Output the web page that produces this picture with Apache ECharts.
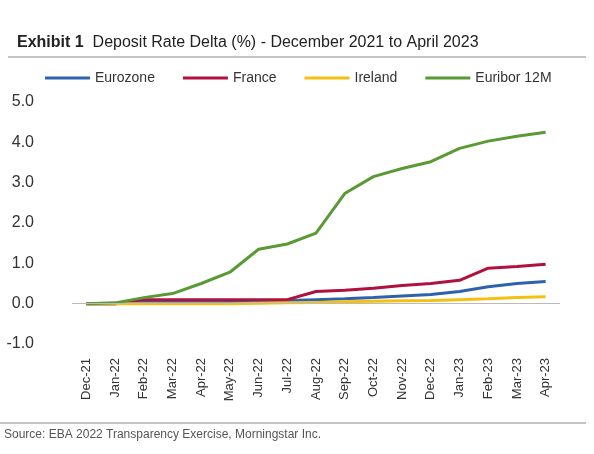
<!DOCTYPE html>
<html><head><meta charset="utf-8">
<script src="https://cdn.jsdelivr.net/npm/echarts@6/dist/echarts.min.js"></script>
<style>body{margin:0;background:#fff}#c{width:594px;height:454px}</style>
</head><body><div id="c"></div>
<script>
const months = ['Dec-21','Jan-22','Feb-22','Mar-22','Apr-22','May-22','Jun-22','Jul-22','Aug-22','Sep-22','Oct-22','Nov-22','Dec-22','Jan-23','Feb-23','Mar-23','Apr-23']
const eurozone = [0,0,0.05,0.05,0.05,0.05,0.07,0.08,0.1,0.12,0.15,0.19,0.23,0.3,0.42,0.5,0.55]
const france = [0,0,0.1,0.1,0.1,0.1,0.1,0.1,0.3,0.33,0.38,0.45,0.5,0.58,0.88,0.92,0.98]
const ireland = [0,0,0,0,0,0,0.01,0.02,0.03,0.05,0.06,0.07,0.08,0.1,0.12,0.15,0.17]
const euribor = [0,0.02,0.15,0.25,0.5,0.78,1.35,1.48,1.75,2.73,3.15,3.35,3.52,3.85,4.03,4.15,4.25]
const yTicks = [-1, 0, 1, 2, 3, 4, 5]

const chart = echarts.init(document.getElementById('c'))
const font = 'Liberation Sans Narrow, Arial Narrow, Liberation Sans, sans-serif'
const mk = (name, data, color) => ({ name, type: 'line', data, symbol: 'none', lineStyle: { width: 3, color }, itemStyle: { color } })
chart.setOption({
    animation: false,
    textStyle: { fontFamily: font },
    title: {
        text: '{b|Exhibit 1}  Deposit Rate Delta (%) - December 2021 to April 2023',
        left: 12, top: 30,
        textStyle: { fontSize: 16, fontWeight: 'normal', color: '#222', fontFamily: font, rich: { b: { fontSize: 16, fontWeight: 'bold', color: '#222', fontFamily: font } } }
    },
    graphic: [
        { type: 'line', shape: { x1: 8, y1: 57, x2: 586, y2: 57 }, style: { stroke: '#888', lineWidth: 1 } },
        { type: 'line', shape: { x1: 0, y1: 423, x2: 586, y2: 423 }, style: { stroke: '#888', lineWidth: 1 } },
        { type: 'text', left: 4, top: 429, style: { text: 'Source: EBA 2022 Transparency Exercise, Morningstar Inc.', fontSize: 12, fill: '#555', fontFamily: font } }
    ],
    legend: {
        top: 66, left: 40, itemWidth: 45, itemHeight: 3, itemGap: 28, icon: 'rect',
        textStyle: { fontSize: 14, color: '#333', fontFamily: font }
    },
    grid: { left: 72, right: 34, top: 102, bottom: 110 },
    xAxis: {
        type: 'category', data: months, boundaryGap: true,
        axisLine: { show: false }, axisTick: { show: false },
        axisLabel: { rotate: 90, fontSize: 13, color: '#333', interval: 0, margin: 14 },
        position: 'bottom'
    },
    yAxis: {
        type: 'value', min: yTicks[0], max: yTicks[yTicks.length - 1], interval: 1,
        splitLine: { show: false }, axisLine: { show: false }, axisTick: { show: false },
        axisLabel: { fontSize: 16, color: '#333', margin: 38, formatter: v => v.toFixed(1) }
    },
    series: [
        Object.assign(mk('Eurozone', eurozone, '#2e62ad'), { markLine: { silent: true, symbol: 'none', label: { show: false }, lineStyle: { color: '#bbb', type: 'solid', width: 1 }, data: [{ yAxis: 0 }] } }),
        mk('France', france, '#b0123f'),
        mk('Ireland', ireland, '#f3c013'),
        mk('Euribor 12M', euribor, '#5a9a35')
    ]
})
</script>
</body></html>
